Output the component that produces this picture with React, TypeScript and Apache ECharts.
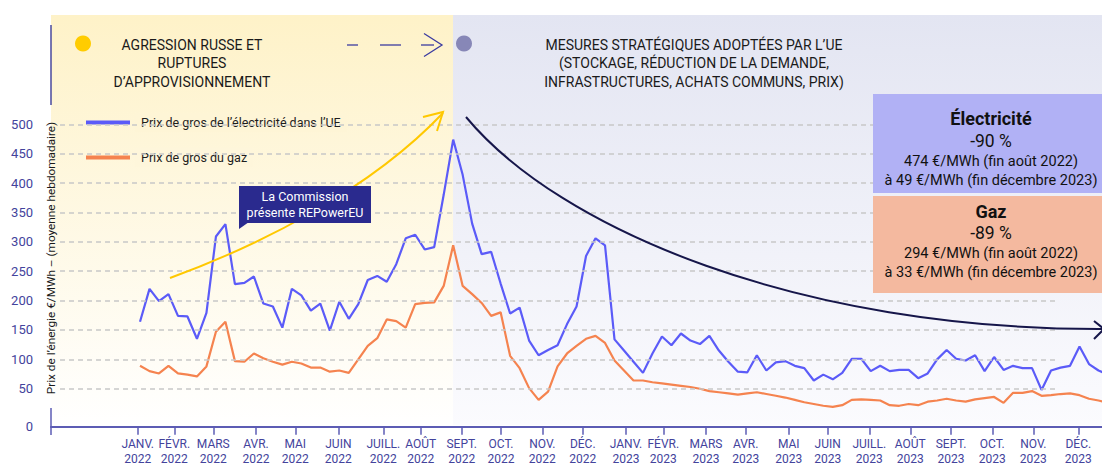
import React, { useEffect, useRef } from "react";
import * as echarts from "echarts";

// Weekly averages, week 0 = first week of January 2022
const electricity = [
  164, 220, 199, 211, 174, 173, 135, 179, 309, 330,
  228, 230, 241, 195, 190, 154, 220, 209, 183, 195,
  149, 198, 169, 194, 235, 242, 232, 262, 306, 312,
  287, 291, 380, 474, 414, 331, 279, 283, 229, 178,
  188, 132, 107, 116, 124, 160, 190, 276, 306, 294,
  134, 115, 96, 77, 110, 139, 124, 144, 132, 126,
  140, 115, 96, 79, 78, 107, 81, 95, 97, 89,
  85, 64, 74, 66, 77, 101, 101, 80, 89, 80,
  82, 82, 68, 76, 100, 116, 101, 98, 107, 80,
  104, 82, 89, 85, 85, 48, 81, 86, 89, 122,
  92, 81, 74,
];
const gas = [
  89, 80, 76, 89, 76, 74, 71, 88, 147, 164,
  97, 96, 110, 102, 96, 91, 96, 93, 86, 86,
  79, 81, 77, 100, 123, 136, 168, 165, 154, 194,
  196, 197, 225, 294, 225, 211, 196, 174, 180, 106,
  85, 51, 31, 45, 88, 110, 123, 135, 140, 128,
  98, 81, 64, 64, 61, 59, 57, 55, 53, 50,
  46, 44, 42, 40, 42, 44, 41, 38, 35, 31,
  27, 24, 21, 19, 22, 31, 32, 31, 30, 22,
  21, 24, 22, 28, 30, 33, 30, 28, 32, 34,
  36, 26, 43, 43, 46, 38, 39, 41, 42, 39,
  33, 30, 26,
];
const monthNames = [
  "JANV.", "FÉVR.", "MARS", "AVR.", "MAI", "JUIN", "JUILL.", "AOÛT", "SEPT.", "OCT.", "NOV.", "DÉC.",
  "JANV.", "FÉVR.", "MARS", "AVR.", "MAI", "JUIN", "JUILL.", "AOÛT", "SEPT.", "OCT.", "NOV.", "DÉC.",
];
const monthYears = [
  "2022", "2022", "2022", "2022", "2022", "2022", "2022", "2022", "2022", "2022", "2022", "2022",
  "2023", "2023", "2023", "2023", "2023", "2023", "2023", "2023", "2023", "2023", "2023", "2023",
];
// month starts, in weeks
const monthTickWeeks = [
  -0.24, 3.61, 7.72, 12.22, 16.36, 20.9, 25.64, 29.58, 33.9, 38.04, 42.39, 46.65,
  51.21, 55.14, 59.64, 63.82, 68.36, 72.46, 76.85, 81.17, 85.46, 89.81, 94.13, 98.87,
];
const yTickValues = [50, 100, 150, 200, 250, 300, 350, 400, 450, 500];
const seriesNames = ["Prix de gros de l’électricité dans l’UE", "Prix de gros du gaz"];

const FONT = "Roboto, 'Noto Sans', sans-serif";
const Y_MIN = -14.6;
const Y_MAX = 686;
const X_MIN = -9.38;
const X_MAX = 101.37;

function txt(x: number, y: number, text: string, size: number, fill: string, extra: any = {}) {
  return {
    type: "text",
    x,
    y,
    z: 110,
    style: {
      text,
      fill,
      fontSize: size,
      fontFamily: FONT,
      align: "center",
      verticalAlign: "middle",
      ...extra,
    },
  };
}

export default function App() {
  const ref = useRef<HTMLDivElement>(null);
  useEffect(() => {
    if (!ref.current) return;
    const chart = echarts.init(ref.current, undefined, { renderer: "svg" });
    const axisBlue = "#5c5cb4";
    const labelBlue = "#43439c";
    const option: any = {
      animation: false,
      textStyle: { fontFamily: FONT },
      grid: { left: 51, right: 0, top: 15, bottom: 39.3, containLabel: false, outerBoundsMode: "none" },
      legend: {
        orient: "vertical",
        left: 86,
        top: 113,
        padding: 0,
        itemGap: 16,
        itemWidth: 44,
        itemHeight: 4,
        icon: "rect",
        selectedMode: false,
        data: [
          { name: seriesNames[0], textStyle: { backgroundColor: "#FEF5D6" } },
          { name: seriesNames[1], textStyle: { backgroundColor: "#FEF6DB" } },
        ],
        textStyle: { color: "#1e1e1e", fontSize: 12.5, lineHeight: 15, padding: [2, 6, 2, 6] },
      },
      xAxis: {
        type: "value",
        min: X_MIN,
        max: X_MAX,
        axisLine: { show: true, onZero: false, lineStyle: { color: axisBlue, width: 2 } },
        axisTick: {
          show: true,
          customValues: monthTickWeeks,
          length: 8,
          lineStyle: { color: axisBlue, width: 1.5 },
        },
        axisLabel: {
          customValues: monthTickWeeks,
          color: labelBlue,
          fontSize: 12,
          lineHeight: 15,
          margin: 10,
          formatter: (v: number) => {
            const i = monthTickWeeks.findIndex((t) => Math.abs(t - v) < 0.01);
            return i < 0 ? "" : monthNames[i] + "\n" + monthYears[i];
          },
        },
        splitLine: { show: false },
      },
      yAxis: {
        type: "value",
        min: Y_MIN,
        max: Y_MAX,
        axisLine: { show: false },
        axisTick: { show: false },
        splitLine: { show: false },
        axisLabel: {
          customValues: [Y_MIN, ...yTickValues],
          color: labelBlue,
          fontSize: 13,
          margin: 18,
          formatter: (v: number) => (v < 0 ? "0" : String(v)),
        },
      },
      series: [
        {
          name: "grid",
          type: "line",
          data: [],
          silent: true,
          z: 1,
          markLine: {
            silent: true,
            symbol: ["none", "none"],
            label: { show: false },
            lineStyle: { color: "#c8c8c8", type: [5, 4], width: 1.5 },
            data: yTickValues.map((v) => [{ coord: [-8.43, v] }, { coord: [96.6, v] }]),
          },
        },
        {
          name: seriesNames[1],
          type: "line",
          data: gas.map((v, i) => [i, v]),
          showSymbol: false,
          symbol: "none",
          z: 3,
          lineStyle: { color: "#F5834F", width: 2.2 },
          itemStyle: { color: "#F5834F" },
        },
        {
          name: seriesNames[0],
          type: "line",
          data: electricity.map((v, i) => [i, v]),
          showSymbol: false,
          symbol: "none",
          z: 4,
          lineStyle: { color: "#5B5BF8", width: 2.2 },
          itemStyle: { color: "#5B5BF8" },
        },
      ],
      graphic: [
        {
          type: "rect",
          z: -10,
          shape: { x: 51, y: 15, width: 402, height: 410 },
          style: {
            fill: new echarts.graphic.LinearGradient(0, 0, 0, 1, [
              { offset: 0, color: "#FEF2C8" },
              { offset: 1, color: "#FFFFFF" },
            ]),
          },
        },
        {
          type: "rect",
          z: -10,
          shape: { x: 453, y: 15, width: 649, height: 410 },
          style: {
            fill: new echarts.graphic.LinearGradient(0, 0, 0, 1, [
              { offset: 0, color: "#E3E5F2" },
              { offset: 1, color: "#FBFBFE" },
            ]),
          },
        },
        { type: "line", z: 5, shape: { x1: 51, y1: 25, x2: 51, y2: 105 }, style: { stroke: "#4a4a9e", lineWidth: 1.5 } },
        { type: "line", z: 5, shape: { x1: 51, y1: 408, x2: 51, y2: 435 }, style: { stroke: axisBlue, lineWidth: 1.5 } },
        { type: "circle", z: 5, shape: { cx: 83, cy: 43.5, r: 8 }, style: { fill: "#FFCC00" } },
        { type: "circle", z: 5, shape: { cx: 464, cy: 43.5, r: 8 }, style: { fill: "#8787B7" } },
        txt(192, 63, "AGRESSION RUSSE ET\nRUPTURES\nD’APPROVISIONNEMENT", 14, "#1a1a1a", { lineHeight: 18.5 }),
        txt(694, 63, "MESURES STRATÉGIQUES ADOPTÉES PAR L’UE\n(STOCKAGE, RÉDUCTION DE LA DEMANDE,\nINFRASTRUCTURES, ACHATS COMMUNS, PRIX)", 14, "#1a1a1a", { lineHeight: 18.5 }),
        { type: "line", z: 5, shape: { x1: 347, y1: 45, x2: 358, y2: 45 }, style: { stroke: "#3b3ba0", lineWidth: 1.3 } },
        { type: "line", z: 5, shape: { x1: 380, y1: 45, x2: 401, y2: 45 }, style: { stroke: "#3b3ba0", lineWidth: 1.3 } },
        { type: "line", z: 5, shape: { x1: 421, y1: 45, x2: 434, y2: 45 }, style: { stroke: "#3b3ba0", lineWidth: 1.3 } },
        { type: "polyline", z: 5, shape: { points: [[424, 33.5], [442, 45], [424, 56.5]] }, style: { stroke: "#3b3ba0", lineWidth: 1.3, fill: "none" } },
        // yellow rising arrow
        {
          type: "bezierCurve",
          z: 6,
          shape: { x1: 170, y1: 278, cpx1: 260, cpy1: 245, cpx2: 370, cpy2: 190, x2: 443, y2: 113 },
          style: { stroke: "#FFC800", lineWidth: 2, fill: "none" },
        },
        { type: "polyline", z: 6, shape: { points: [[423, 117], [443, 112], [437, 131]] }, style: { stroke: "#FFC800", lineWidth: 2, fill: "none" } },
        // navy falling arrow
        {
          type: "bezierCurve",
          z: 6,
          shape: { x1: 466, y1: 117, cpx1: 560, cpy1: 230, cpx2: 800, cpy2: 330, x2: 1103, y2: 329 },
          style: { stroke: "#16164a", lineWidth: 2, fill: "none" },
        },
        { type: "polyline", z: 6, shape: { points: [[1094, 321], [1104, 329], [1094, 339]] }, style: { stroke: "#16164a", lineWidth: 2, fill: "none" } },
        // REPowerEU callout
        { type: "rect", z: 100, shape: { x: 239, y: 186, width: 132, height: 37 }, style: { fill: "#2A2A8E" } },
        { type: "polygon", z: 100, shape: { points: [[239, 222], [249, 222], [239, 229]] }, style: { fill: "#2A2A8E" } },
        txt(305, 204, "La Commission\nprésente REPowerEU", 12.5, "#ffffff", { lineHeight: 16 }),
        // summary boxes
        { type: "rect", z: 100, shape: { x: 873, y: 94, width: 229, height: 99 }, style: { fill: "#B1B1F5" } },
        { type: "rect", z: 100, shape: { x: 873, y: 196, width: 229, height: 97 }, style: { fill: "#F4B99F" } },
        txt(991, 118, "Électricité", 18, "#111", { fontWeight: "bold" }),
        txt(991, 141, "-90 %", 17.5, "#111"),
        txt(991, 161, "474 €/MWh (fin août 2022)", 14.5, "#111"),
        txt(991, 180, "à 49 €/MWh (fin décembre 2023)", 14.5, "#111"),
        txt(991, 211, "Gaz", 18, "#111", { fontWeight: "bold" }),
        txt(991, 233, "-89 %", 17.5, "#111"),
        txt(991, 253, "294 €/MWh (fin août 2022)", 14.5, "#111"),
        txt(991, 272, "à 33 €/MWh (fin décembre 2023)", 14.5, "#111"),
        // y axis title
        {
          type: "text",
          z: 110,
          x: 51,
          y: 258,
          rotation: Math.PI / 2,
          style: {
            text: "Prix de l’énergie €/MWh – (moyenne hebdomadaire)",
            fill: "#1a1a1a",
            fontSize: 11.8,
            fontFamily: FONT,
            align: "center",
            verticalAlign: "middle",
          },
        },
      ],
    };
    chart.setOption(option);
    return () => chart.dispose();
  }, []);
  return (
    <div
      ref={ref}
      style={{ position: "absolute", left: 0, top: 0, width: 1102, height: 466 }}
    />
  );
}
